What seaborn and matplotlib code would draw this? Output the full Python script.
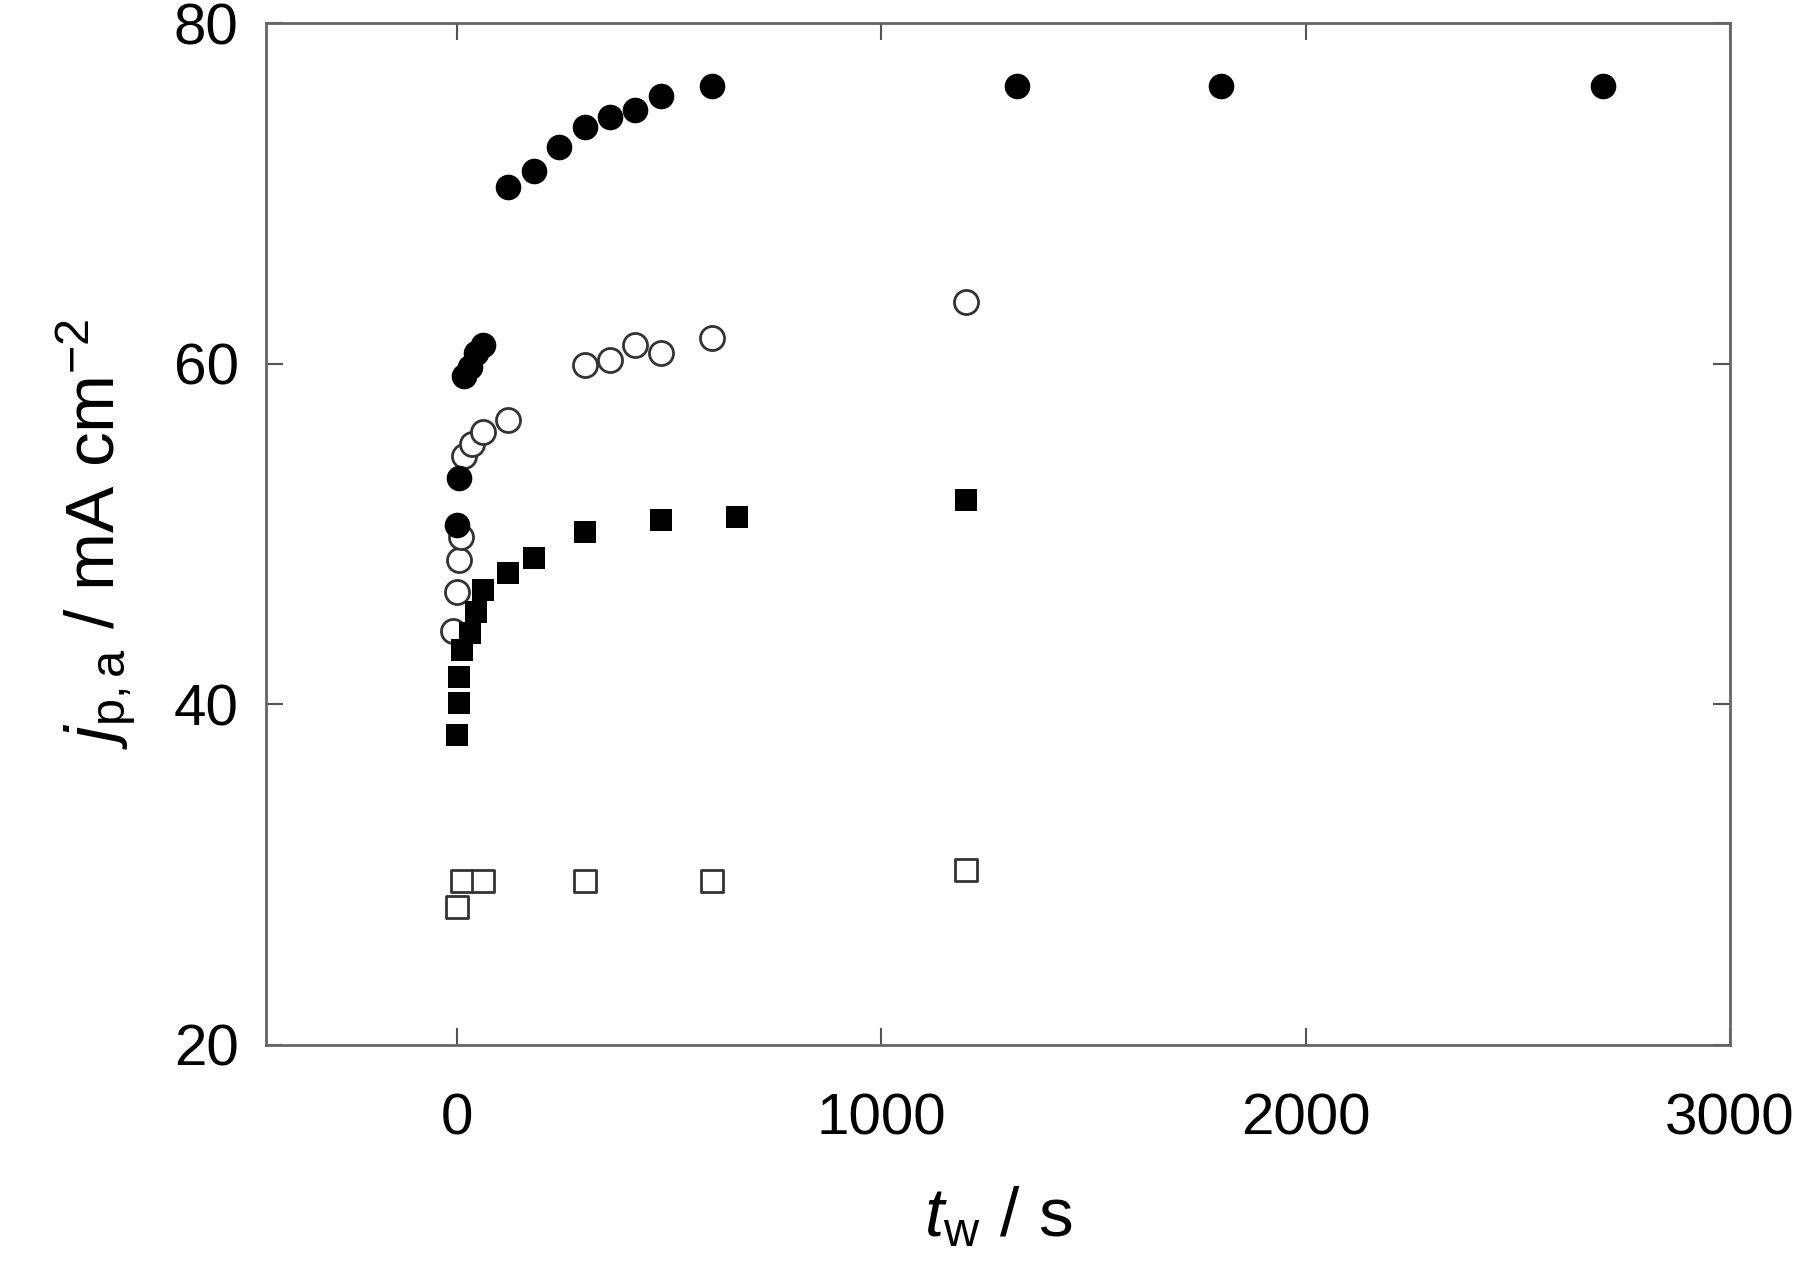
import numpy as np
import pandas as pd
import matplotlib
matplotlib.use("Agg")
import matplotlib.pyplot as plt
import seaborn as sns

# filled circles
fc_x = [0, 5, 15, 30, 45, 60, 120, 180, 240, 300, 360, 420, 480, 600, 1320, 1800, 2700]
fc_y = [50.5, 53.3, 59.3, 59.8, 60.6, 61.1, 70.4, 71.3, 72.7, 73.9, 74.5, 74.9, 75.7, 76.3, 76.3, 76.3, 76.3]
# open circles
oc_x = [-10, 0, 3, 8, 15, 35, 60, 120, 300, 360, 420, 480, 600, 1200]
oc_y = [44.3, 46.6, 48.5, 49.8, 54.6, 55.3, 56.0, 56.7, 59.9, 60.2, 61.1, 60.6, 61.5, 63.6]
# filled squares
fs_x = [0, 3, 5, 10, 30, 45, 60, 120, 180, 300, 480, 660, 1200]
fs_y = [38.2, 40.1, 41.6, 43.2, 44.2, 45.4, 46.7, 47.7, 48.6, 50.1, 50.8, 51.0, 52.0]
# open squares
os_x = [0, 10, 60, 300, 600, 1200]
os_y = [28.1, 29.6, 29.6, 29.6, 29.6, 30.3]

x_ticks = [0, 1000, 2000, 3000]
y_ticks = [20, 40, 60, 80]

sns.set_theme(style="ticks")
plt.rcParams['font.family'] = ['Liberation Sans', 'DejaVu Sans']
plt.rcParams['mathtext.fontset'] = 'custom'
plt.rcParams['mathtext.rm'] = 'Liberation Sans'
plt.rcParams['mathtext.it'] = 'Liberation Sans:italic'

fig = plt.figure(figsize=(18, 12.79), dpi=100)
ax = fig.add_axes([0.148, 0.183, 0.813, 0.799])

sns.scatterplot(x=os_x, y=os_y, ax=ax, marker="s", s=240, facecolor="white",
                edgecolor="#333333", linewidth=2, zorder=3)
sns.scatterplot(x=oc_x, y=oc_y, ax=ax, marker="o", s=300, facecolor="white",
                edgecolor="#333333", linewidth=2, zorder=3)
sns.scatterplot(x=fs_x, y=fs_y, ax=ax, marker="s", s=260, color="black",
                edgecolor="black", linewidth=0, zorder=4)
sns.scatterplot(x=fc_x, y=fc_y, ax=ax, marker="o", s=340, color="black",
                edgecolor="black", linewidth=0, zorder=5)

ax.set_xlim(-450, 3000)
ax.set_ylim(20, 80)
ax.set_xticks(x_ticks)
ax.set_yticks(y_ticks)
ax.tick_params(direction="in", length=12, width=1.5, color="#555555",
               labelsize=42, labelcolor="black", top=True, right=True)
ax.tick_params(axis="x", pad=34)
ax.tick_params(axis="y", pad=20)
for sp in ax.spines.values():
    sp.set_color("#666666")
    sp.set_linewidth(2)

ax.set_xlabel(r"$\mathit{t}_{\mathrm{w}}$ / s", fontsize=50, labelpad=28, color="black")
ax.set_ylabel(r"$\mathit{j}_{\mathrm{p,a}}$ / mA cm$^{\mathrm{-2}}$", fontsize=50,
              labelpad=26, color="black")

fig.savefig("out.png", dpi=100)
